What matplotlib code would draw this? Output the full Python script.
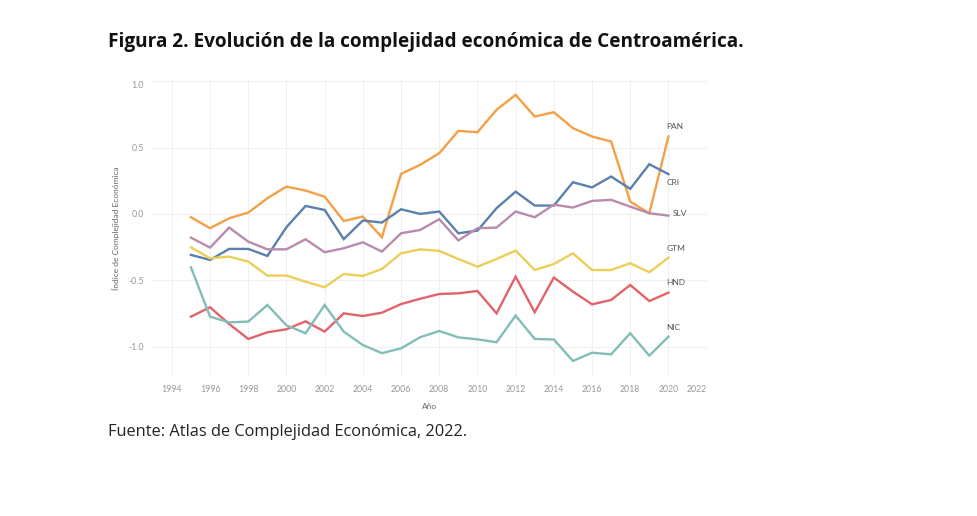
import numpy as np
import matplotlib.pyplot as plt

years = list(range(1995, 2021))

pan = [-0.025, -0.108, -0.033, 0.01, 0.118, 0.206, 0.176, 0.13, -0.053, -0.02,
       -0.176, 0.302, 0.37, 0.458, 0.626, 0.616, 0.785, 0.898, 0.734, 0.767,
       0.647, 0.584, 0.546, 0.093, 0.005, 0.584]
cri = [-0.309, -0.347, -0.264, -0.264, -0.317, -0.10, 0.06, 0.03, -0.19, -0.05,
       -0.065, 0.035, 0.0, 0.018, -0.146, -0.126, 0.043, 0.168, 0.063, 0.063,
       0.239, 0.2, 0.282, 0.189, 0.375, 0.30]
slv = [-0.179, -0.254, -0.103, -0.209, -0.267, -0.267, -0.191, -0.289, -0.259, -0.214,
       -0.284, -0.146, -0.121, -0.04, -0.2, -0.108, -0.103, 0.018, -0.025, 0.07,
       0.048, 0.098, 0.106, 0.055, 0.005, -0.013]
gtm = [-0.252, -0.335, -0.322, -0.36, -0.465, -0.465, -0.511, -0.553, -0.453, -0.468,
       -0.415, -0.297, -0.267, -0.279, -0.34, -0.398, -0.34, -0.277, -0.423, -0.378,
       -0.297, -0.423, -0.423, -0.372, -0.44, -0.33]
hnd = [-0.775, -0.704, -0.83, -0.943, -0.893, -0.87, -0.81, -0.888, -0.75, -0.77,
       -0.745, -0.68, -0.64, -0.604, -0.599, -0.581, -0.75, -0.473, -0.742, -0.48,
       -0.586, -0.682, -0.649, -0.536, -0.657, -0.594]
nic = [-0.403, -0.775, -0.818, -0.812, -0.687, -0.84, -0.9, -0.687, -0.888, -0.989,
       -1.05, -1.014, -0.93, -0.883, -0.931, -0.946, -0.968, -0.767, -0.943, -0.947,
       -1.109, -1.047, -1.059, -0.9, -1.069, -0.926]

# name, values, colour, label y
series = [('PAN', pan, '#F3A047', 0.657),
          ('CRI', cri, '#5A80AD', 0.234),
          ('SLV', slv, '#BA8AAE', 0.0),
          ('GTM', gtm, '#EBCF58', -0.264),
          ('HND', hnd, '#E2636A', -0.52),
          ('NIC', nic, '#82BDB7', -0.86)]

fig = plt.figure(figsize=(9.78, 5.16), dpi=100)
ax = fig.add_axes([152/978, 1-377/516, 555/978, 297/516])

for name, vals, col, ly in series:
    ax.plot(years, vals, color=col, lw=1.7, solid_joinstyle='miter')
    lx = 2020.25 if name == 'SLV' else 2019.9
    ax.text(lx, ly, name, fontsize=6, color='#555555', va='center', ha='left',
            family='Lato')

ax.set_xlim(1992.96, 2022.02)
ax.set_ylim(-1.23, 1.01)
ax.set_xticks(range(1994, 2023, 2))
ax.set_yticks([-1.0, -0.5, 0.0, 0.5, 1.0])
ax.set_yticklabels(['-1.0', '-0.5', '0.0', '0.5', '1.0'])
ax.grid(True, color='#f0f0f0', lw=0.8)
ax.set_axisbelow(True)
for s in ax.spines.values():
    s.set_visible(False)
ax.tick_params(length=0, labelsize=6.3, labelcolor='#999999', pad=6)
for t in ax.get_xticklabels() + ax.get_yticklabels():
    t.set_family('Lato')
ax.get_xticklabels()[-1].set_horizontalalignment('right')
ax.get_yticklabels()[-1].set_verticalalignment('top')
ax.set_xlabel('Año', fontsize=6, color='#666666', family='Lato', labelpad=6)
ax.set_ylabel('Índice de Complejidad Económica', fontsize=6, color='#666666',
              family='Lato', labelpad=6)

fig.text(108/978, 1-42/516, 'Figura 2. Evolución de la complejidad económica de Centroamérica.',
         fontsize=13.7, fontweight='bold', family='Open Sans', va='center', ha='left',
         color='#111111')
fig.text(108/978, 1-432/516, 'Fuente: Atlas de Complejidad Económica, 2022.',
         fontsize=11.8, family='Open Sans', va='center', ha='left', color='#222222')

fig.savefig('out.png', dpi=100)
